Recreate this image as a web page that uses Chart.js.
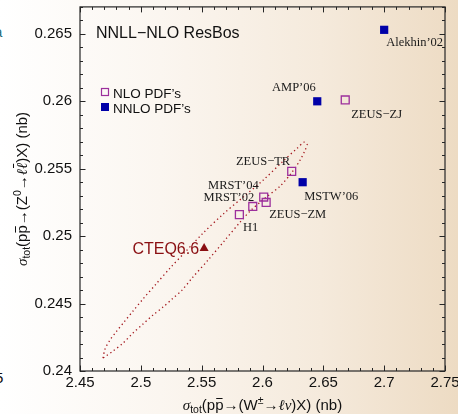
<!DOCTYPE html>
<html>
<head>
<meta charset="utf-8">
<script src="https://cdn.jsdelivr.net/npm/chart.js@4.4.1/dist/chart.umd.min.js"></script>
<style>
  html, body { margin: 0; padding: 0; }
  body {
    width: 458px; height: 414px; overflow: hidden; position: relative;
    background: linear-gradient(to right, #ffffff 0%, #fbf6f0 35%, #f5eadc 70%, #eddbc3 100%);
  }
  canvas { position: absolute; left: 0; top: 0; }
  .edge { position: absolute; font: 15px "Liberation Sans", Arial, sans-serif; }
</style>
</head>
<body>
<span class="edge" style="left:-5px; top:369px; color:#111">5</span>
<span class="edge" style="left:-6px; top:23px; color:#2b6d78">a</span>
<canvas id="chart" width="458" height="414"></canvas>
<script>
// NLO PDF sets (open squares)
const nloNames = ['ZEUS\u2212ZJ', 'ZEUS\u2212TR', 'MRST\u201904', 'ZEUS\u2212ZM', 'MRST\u201902', 'H1'];
const nloW = [2.668, 2.624, 2.601, 2.603, 2.592, 2.581];
const nloZ = [0.2601, 0.2548, 0.2529, 0.2525, 0.2522, 0.2516];

// NNLO PDF sets (filled squares)
const nnloNames = ['Alekhin\u201902', 'AMP\u201906', 'MSTW\u201906'];
const nnloW = [2.700, 2.645, 2.633];
const nnloZ = [0.2653, 0.2600, 0.2540];

// CTEQ6.6 central value
const cteqNames = ['CTEQ6.6'];
const cteqW = [2.552];
const cteqZ = [0.2491];

// 90% CL ellipse around CTEQ6.6
const ellipseW = [2.4689, 2.4706, 2.4747, 2.4796, 2.4862, 2.4936, 2.5018, 2.5125, 2.5240, 2.5364,
  2.5512, 2.5676, 2.5840, 2.6005, 2.6169, 2.6285, 2.6342, 2.6367,
  2.6350, 2.6309, 2.6243, 2.6145, 2.6021, 2.5898, 2.5816, 2.5692, 2.5553, 2.5421,
  2.5339, 2.5257, 2.5183, 2.5100, 2.5018, 2.4936, 2.4854, 2.4771, 2.4714, 2.4689];
const ellipseZ = [0.24096, 0.24163, 0.24230, 0.24289, 0.24363, 0.24445, 0.24534, 0.24645, 0.24763, 0.24882,
  0.25023, 0.25163, 0.25289, 0.25415, 0.25556, 0.25652, 0.25697, 0.25682,
  0.25638, 0.25564, 0.25475, 0.25371, 0.25282, 0.25186, 0.25104, 0.24971, 0.24823, 0.24689,
  0.24600, 0.24534, 0.24474, 0.24415, 0.24348, 0.24282, 0.24207, 0.24148, 0.24111, 0.24096];

const xTickValues = [2.45, 2.5, 2.55, 2.6, 2.65, 2.7, 2.75];
const xTickLabels = ['2.45', '2.5', '2.55', '2.6', '2.65', '2.7', '2.75'];
const yTickValues = [0.24, 0.245, 0.25, 0.255, 0.26, 0.265];
const yTickLabels = ['0.24', '0.245', '0.25', '0.255', '0.26', '0.265'];

// where each point label sits relative to its marker: dx, dy (baseline), align
const labelPlace = {
  'Alekhin\u201902': [2, 16, 'left'],
  'AMP\u201906': [-1.5, -10.5, 'right'],
  'ZEUS\u2212ZJ': [6, 18, 'left'],
  'ZEUS\u2212TR': [-1.5, -6, 'right'],
  'MSTW\u201906': [1.5, 17.5, 'left'],
  'MRST\u201904': [-5, -8.5, 'right'],
  'MRST\u201902': [1.5, -5, 'right'],
  'ZEUS\u2212ZM': [3, 15.5, 'left'],
  'H1': [3.5, 16, 'left'],
  'CTEQ6.6': [-5, 6, 'right']
};

const SANS = '"Liberation Sans", Arial, sans-serif';
const SERIF = '"Liberation Serif", "Times New Roman", serif';
const PURPLE = '#9c2f9c';
const BLUE = '#0000a8';
const DARKRED = '#8a0f12';

const pairs = (xs, ys) => xs.map((x, i) => ({ x: x, y: ys[i] }));

// rich text pieces for the axis titles
const xTitle = [
  { t: '\u03c3', font: 'italic 15px ' + SERIF },
  { t: 'tot', font: '10.5px ' + SANS, dy: 3 },
  { t: '(p', font: '15px ' + SANS },
  { t: 'p', font: '15px ' + SANS, bar: 12 },
  { t: '\u2192(W', font: '15px ' + SANS },
  { t: '\u00b1', font: '10.5px ' + SANS, dy: -6 },
  { t: '\u2192', font: '15px ' + SANS },
  { t: '\u2113\u03bd', font: 'italic 15px ' + SERIF },
  { t: ')X) (nb)', font: '15px ' + SANS }
];
const yTitle = [
  { t: '\u03c3', font: 'italic 15px ' + SERIF },
  { t: 'tot', font: '10.5px ' + SANS, dy: 3 },
  { t: '(p', font: '15px ' + SANS },
  { t: 'p', font: '15px ' + SANS, bar: 12 },
  { t: '\u2192(Z', font: '15px ' + SANS },
  { t: '0', font: '10.5px ' + SANS, dy: -6 },
  { t: '\u2192', font: '15px ' + SANS },
  { t: '\u2113', font: 'italic 15px ' + SERIF },
  { t: '\u2113', font: 'italic 15px ' + SERIF, bar: 14 },
  { t: ')X) (nb)', font: '15px ' + SANS }
];

function drawRich(ctx, parts, cx, y) {
  let total = 0;
  parts.forEach(p => { ctx.font = p.font; total += ctx.measureText(p.t).width; });
  let x = cx - total / 2;
  ctx.textAlign = 'left';
  ctx.textBaseline = 'alphabetic';
  parts.forEach(p => {
    ctx.font = p.font;
    const w = ctx.measureText(p.t).width;
    ctx.fillText(p.t, x, y + (p.dy || 0));
    if (p.bar) ctx.fillRect(x + 1, y - p.bar, w - 2, 1);
    x += w;
  });
}

const decor = {
  id: 'decor',
  afterDatasetsDraw(chart) {
    const ctx = chart.ctx;
    const a = chart.chartArea;
    const xs = chart.scales.x, ys = chart.scales.y;
    ctx.save();

    // frame with inward ticks on all four sides
    ctx.strokeStyle = '#262626';
    ctx.lineWidth = 1.2;
    ctx.strokeRect(a.left, a.top, a.right - a.left, a.bottom - a.top);
    ctx.lineWidth = 1;
    ctx.beginPath();
    for (let i = 0; i <= 30; i++) {
      const v = 2.45 + i * 0.01;
      const px = Math.round(xs.getPixelForValue(v)) + 0.5;
      const len = i % 5 === 0 ? 5.5 : 3;
      ctx.moveTo(px, a.bottom); ctx.lineTo(px, a.bottom - len);
      ctx.moveTo(px, a.top); ctx.lineTo(px, a.top + len);
    }
    for (let i = 0; i <= 27; i++) {
      const v = 0.24 + i * 0.001;
      const py = Math.round(ys.getPixelForValue(v)) + 0.5;
      const len = i % 5 === 0 ? 5.5 : 3;
      ctx.moveTo(a.left, py); ctx.lineTo(a.left + len, py);
      ctx.moveTo(a.right, py); ctx.lineTo(a.right - len, py);
    }
    ctx.stroke();

    // point labels
    ctx.textBaseline = 'alphabetic';
    chart.data.datasets.forEach((ds, di) => {
      if (!ds.names) return;
      const meta = chart.getDatasetMeta(di);
      ds.names.forEach((name, j) => {
        const el = meta.data[j];
        const p = labelPlace[name];
        if (name === 'CTEQ6.6') {
          ctx.font = '16px ' + SANS;
          ctx.fillStyle = DARKRED;
        } else {
          ctx.font = '12.5px ' + SERIF;
          ctx.fillStyle = '#1a1a1a';
        }
        ctx.textAlign = p[2];
        ctx.fillText(name, el.x + p[0], el.y + p[1]);
      });
    });

    // panel title
    ctx.fillStyle = '#111';
    ctx.textAlign = 'left';
    ctx.font = '16px ' + SANS;
    ctx.fillText('NNLL\u2212NLO ResBos', 96, 38);

    // legend
    ctx.font = '13.5px ' + SANS;
    ctx.strokeStyle = PURPLE;
    ctx.lineWidth = 1.2;
    ctx.strokeRect(101.5, 88.5, 7, 7);
    ctx.fillStyle = BLUE;
    ctx.fillRect(101, 103, 8, 8);
    ctx.fillStyle = '#111';
    ctx.fillText('NLO PDF\u2019s', 113, 98);
    ctx.fillText('NNLO PDF\u2019s', 113, 112.5);

    // axis titles
    ctx.fillStyle = '#111';
    drawRich(ctx, xTitle, (a.left + a.right) / 2, 410);
    ctx.translate(27, (a.top + a.bottom) / 2);
    ctx.rotate(-Math.PI / 2);
    drawRich(ctx, yTitle, 0, 0);
    ctx.restore();
  }
};

new Chart(document.getElementById('chart'), {
  type: 'scatter',
  data: {
    datasets: [
      {
        label: 'CL ellipse',
        data: pairs(ellipseW, ellipseZ),
        showLine: true,
        tension: 0.3,
        borderColor: '#a3161c',
        borderWidth: 1.3,
        borderDash: [1.3, 3],
        pointRadius: 0,
        fill: false,
        order: 10
      },
      {
        label: "NLO PDF's",
        names: nloNames,
        data: pairs(nloW, nloZ),
        pointStyle: 'rect',
        pointRadius: 5.6,
        pointBorderWidth: 1.3,
        pointBorderColor: PURPLE,
        pointBackgroundColor: 'rgba(0,0,0,0)',
        order: 1
      },
      {
        label: "NNLO PDF's",
        names: nnloNames,
        data: pairs(nnloW, nnloZ),
        pointStyle: 'rect',
        pointRadius: 5.8,
        pointBorderWidth: 0,
        pointBackgroundColor: BLUE,
        order: 1
      },
      {
        label: 'CTEQ6.6',
        names: cteqNames,
        data: pairs(cteqW, cteqZ),
        pointStyle: 'triangle',
        pointRadius: 5.2,
        pointBorderWidth: 0,
        pointBackgroundColor: DARKRED,
        order: 0
      }
    ]
  },
  options: {
    responsive: false,
    animation: false,
    layout: { padding: { top: 6, right: 13, left: 0, bottom: 0 } },
    plugins: { legend: { display: false }, tooltip: { enabled: false } },
    scales: {
      x: {
        type: 'linear',
        min: 2.45,
        max: 2.75,
        afterBuildTicks: s => { s.ticks = xTickValues.map(v => ({ value: v })); },
        afterFit: s => { s.height = 43; s.paddingLeft = 0; s.paddingRight = 0; },
        grid: { display: false, drawTicks: false },
        border: { display: false },
        ticks: {
          padding: 3,
          maxRotation: 0,
          color: '#111',
          font: { family: SANS, size: 15 },
          callback: (v, i) => xTickLabels[i]
        }
      },
      y: {
        type: 'linear',
        min: 0.24,
        max: 0.267,
        afterBuildTicks: s => { s.ticks = yTickValues.map(v => ({ value: v })); },
        afterFit: s => { s.width = 80; s.paddingTop = 0; s.paddingBottom = 0; },
        grid: { display: false, drawTicks: false },
        border: { display: false },
        ticks: {
          padding: 8,
          color: '#111',
          font: { family: SANS, size: 15 },
          callback: (v, i) => yTickLabels[i]
        }
      }
    }
  },
  plugins: [decor]
});
</script>
</body>
</html>
